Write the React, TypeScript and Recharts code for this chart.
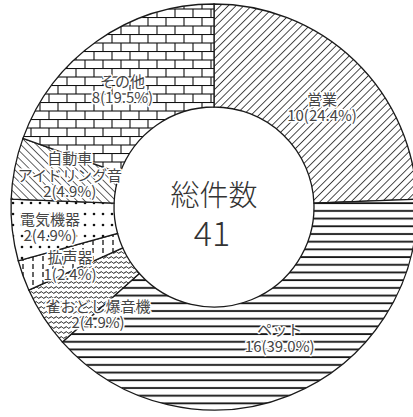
import React from "react";
import { PieChart, Pie, Cell } from "recharts";

const CATEGORIES = ["営業", "ペット", "雀おどし爆音機", "拡声器", "電気機器", "自動車アイドリング音", "その他"];
const COUNTS = [10, 16, 2, 1, 2, 2, 8];
// how each category label is broken into lines
const LABEL_LINES = [["営業"], ["ペット"], ["雀おどし爆音機"], ["拡声器"], ["電気機器"], ["自動車", "アイドリング音"], ["その他"]];
const TOTAL_TITLE = "総件数";

const data = CATEGORIES.map((name, i) => ({ name, count: COUNTS[i] }));
const total = COUNTS.reduce((a, b) => a + b, 0);

const CX = 214;
const CY = 207;
const FILLS = ["url(#p-diag)", "url(#p-horiz)", "url(#p-wave)", "url(#p-vdash)", "url(#p-dots)", "url(#p-back)", "url(#p-brick)"];
// small nudges so labels sit where the original places them
const ANGLE_NUDGE = [-3, 5, 9.5, 2, 0, -2, 2.5];
const LABEL_R = [148, 145, 157, 155, 165, 148, 150];

const FONT = "'Noto Sans CJK JP', 'Noto Sans', sans-serif";
const RAD = Math.PI / 180;

const renderLabel = (props: any) => {
    const { cx, cy, midAngle, index, value, percent } = props;
    const ang = (midAngle + ANGLE_NUDGE[index]) * RAD;
    const r = LABEL_R[index];
    const x = cx + r * Math.cos(ang);
    const y = cy - r * Math.sin(ang);
    const lines = [...LABEL_LINES[index], `${value}(${(percent * 100).toFixed(1)}%)`];
    const lh = 16.5;
    const y0 = y - ((lines.length - 1) * lh) / 2;
    return (
        <text
            x={x}
            y={y0}
            textAnchor="middle"
            dominantBaseline="central"
            fontFamily={FONT}
            fontSize={15}
            fontWeight={400}
            fill="#444"
            stroke="#fff"
            strokeWidth={3}
            paintOrder="stroke"
            strokeLinejoin="round"
        >
            {lines.map((t, i) => (
                <tspan key={i} x={x} y={y0 + i * lh}>
                    {t}
                </tspan>
            ))}
        </text>
    );
};

const App: React.FC = () => {
    return (
        <div>
            <style>{`body{margin:0;background:#fff}`}</style>
            <PieChart width={413} height={417} margin={{ top: 0, right: 0, bottom: 0, left: 0 }}>
                <defs>
                    <pattern id="p-diag" width={5.5} height={5.5} patternUnits="userSpaceOnUse" patternTransform="rotate(45)">
                        <rect width={5.5} height={5.5} fill="#fff" />
                        <line x1={0} y1={0} x2={0} y2={5.5} stroke="#111" strokeWidth={1.5} />
                    </pattern>
                    <pattern id="p-back" width={5.5} height={5.5} patternUnits="userSpaceOnUse" patternTransform="rotate(-45)">
                        <rect width={5.5} height={5.5} fill="#fff" />
                        <line x1={0} y1={0} x2={0} y2={5.5} stroke="#111" strokeWidth={1.3} />
                    </pattern>
                    <pattern id="p-horiz" width={8} height={7.7} patternUnits="userSpaceOnUse">
                        <rect width={8} height={7.7} fill="#fff" />
                        <line x1={0} y1={3} x2={8} y2={3} stroke="#111" strokeWidth={1.8} />
                    </pattern>
                    <pattern id="p-wave" width={5} height={5} patternUnits="userSpaceOnUse">
                        <rect width={5} height={5} fill="#fff" />
                        <path d="M0 2.5 Q1.25 0.8 2.5 2.5 T5 2.5" fill="none" stroke="#111" strokeWidth={1} />
                    </pattern>
                    <pattern id="p-vdash" width={10} height={8} patternUnits="userSpaceOnUse">
                        <rect width={10} height={8} fill="#fff" />
                        <line x1={3} y1={0} x2={3} y2={5} stroke="#111" strokeWidth={1.3} />
                    </pattern>
                    <pattern id="p-dots" width={9} height={11} patternUnits="userSpaceOnUse">
                        <rect width={9} height={11} fill="#fff" />
                        <circle cx={4} cy={5} r={1.3} fill="#111" />
                    </pattern>
                    <pattern id="p-brick" width={18} height={17} patternUnits="userSpaceOnUse">
                        <rect width={18} height={17} fill="#fff" />
                        <line x1={0} y1={0.5} x2={18} y2={0.5} stroke="#111" strokeWidth={1.1} />
                        <line x1={0} y1={9} x2={18} y2={9} stroke="#111" strokeWidth={1.1} />
                        <line x1={4} y1={0.5} x2={4} y2={9} stroke="#111" strokeWidth={1.1} />
                        <line x1={13} y1={9} x2={13} y2={17} stroke="#111" strokeWidth={1.1} />
                    </pattern>
                </defs>
                <Pie
                    data={data}
                    dataKey="count"
                    nameKey="name"
                    cx={CX}
                    cy={CY}
                    innerRadius={100}
                    outerRadius={203}
                    startAngle={90}
                    endAngle={-270}
                    stroke="#1a1a1a"
                    strokeWidth={1.3}
                    label={renderLabel}
                    labelLine={false}
                    isAnimationActive={false}
                >
                    {data.map((_entry, index) => (
                        <Cell key={`cell-${index}`} fill={FILLS[index]} />
                    ))}
                </Pie>
                <g fontFamily={FONT} fill="#333" textAnchor="middle" fontWeight={300}>
                    <text x={CX} y={CY - 14} fontSize={29} dominantBaseline="central">
                        {TOTAL_TITLE}
                    </text>
                    <text x={CX - 2} y={CY + 24} fontSize={34} dominantBaseline="central">
                        {total}
                    </text>
                </g>
            </PieChart>
        </div>
    );
};

export default App;
